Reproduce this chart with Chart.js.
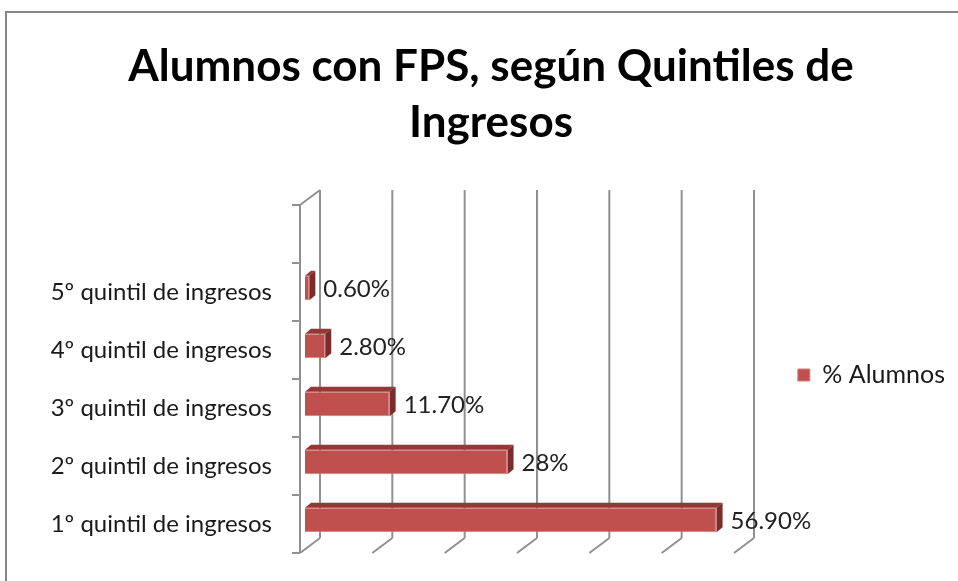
<!DOCTYPE html>
<html>
<head>
<meta charset="utf-8">
<script src="https://cdn.jsdelivr.net/npm/chart.js@4.4.0/dist/chart.umd.min.js"></script>
<style>
  html, body { margin: 0; padding: 0; background: #fff; }
  #wrap { width: 958px; height: 581px; position: relative; }
</style>
</head>
<body>
<div id="wrap"><canvas id="grafico"></canvas></div>
<script>
// Datos (orden de Excel: de abajo hacia arriba)
const quintiles = ['1º quintil de ingresos', '2º quintil de ingresos', '3º quintil de ingresos',
    '4º quintil de ingresos', '5º quintil de ingresos', ''];
const alumnos = [56.9, 28, 11.7, 2.8, 0.6, null];
const etiquetas = ['56.90%', '28%', '11.70%', '2.80%', '0.60%', ''];
const ejeX = [0, 10, 20, 30, 40, 50, 60];

const FUENTE = 'Lato, "Open Sans", sans-serif';
const TAM = 24;                     // tamaño del texto de ejes y etiquetas
const TAM_LEY = 25;                 // tamaño del texto de la leyenda
const PROF = { dx: 20, dy: -15 };   // profundidad de las paredes
const BARRA = { dx: 6, dy: -5 };    // profundidad de las barras
const DESP = { dx: -5, dy: 4 };     // plano frontal respecto a las barras
const DERECHA = 739;                // borde derecho del área de barras
const PAD_DER = 3;

function poligono(ctx, pts) {
    ctx.beginPath();
    ctx.moveTo(pts[0][0], pts[0][1]);
    for (let i = 1; i < pts.length; i++) ctx.lineTo(pts[i][0], pts[i][1]);
    ctx.closePath();
    ctx.fill();
}

// Plugin que dibuja el marco, las paredes 3D y las caras de las barras
const efecto3d = {
    id: 'efecto3d',
    beforeDraw(chart) {
        const ctx = chart.ctx;
        ctx.save();
        ctx.strokeStyle = '#878787';
        ctx.lineWidth = 2;
        ctx.beginPath();
        ctx.moveTo(6, chart.height + 2);
        ctx.lineTo(6, 12);
        ctx.lineTo(chart.width + 2, 12);
        ctx.stroke();
        ctx.restore();
    },
    beforeDatasetsDraw(chart) {
        const { ctx, chartArea: a, scales: { x } } = chart;
        const fTop = a.top + DESP.dy, fBot = a.bottom + DESP.dy;
        const fx = v => x.getPixelForValue(v) + DESP.dx;
        ctx.save();
        ctx.strokeStyle = '#909090';
        ctx.lineWidth = 2;
        ctx.beginPath();
        // pared izquierda
        const x0 = fx(ejeX[0]);
        ctx.moveTo(x0, fTop); ctx.lineTo(x0, fBot);
        ctx.moveTo(x0, fTop); ctx.lineTo(x0 + PROF.dx, fTop + PROF.dy);
        // marcas del eje de categorías
        const paso = (a.bottom - a.top) / quintiles.length;
        for (let i = 0; i <= quintiles.length; i++) {
            const yy = fTop + i * paso;
            ctx.moveTo(x0 - 8, yy); ctx.lineTo(x0, yy);
        }
        // líneas de división: pared del fondo y suelo
        ejeX.forEach(v => {
            const xf = fx(v);
            ctx.moveTo(xf + PROF.dx, fTop + PROF.dy); ctx.lineTo(xf + PROF.dx, fBot + PROF.dy);
            ctx.moveTo(xf, fBot); ctx.lineTo(xf + PROF.dx, fBot + PROF.dy);
        });
        ctx.stroke();
        ctx.restore();
    },
    afterDatasetsDraw(chart) {
        const ctx = chart.ctx;
        const meta = chart.getDatasetMeta(0);
        ctx.save();
        meta.data.forEach((bar, i) => {
            if (alumnos[i] == null) return;
            const p = bar.getProps(['x', 'y', 'base', 'height'], true);
            const top = p.y - p.height / 2, bot = p.y + p.height / 2;
            ctx.fillStyle = '#953735';
            poligono(ctx, [[p.base, top], [p.x, top], [p.x + BARRA.dx, top + BARRA.dy], [p.base + BARRA.dx, top + BARRA.dy]]);
            ctx.fillStyle = '#7b2c2a';
            poligono(ctx, [[p.x, top], [p.x + BARRA.dx, top + BARRA.dy], [p.x + BARRA.dx, bot + BARRA.dy], [p.x, bot]]);
            ctx.fillStyle = '#222222';
            ctx.font = TAM + 'px ' + FUENTE;
            ctx.textBaseline = 'middle';
            ctx.textAlign = 'left';
            ctx.fillText(etiquetas[i], p.x + BARRA.dx + 8, p.y + 1);
        });
        ctx.restore();
    }
};

new Chart(document.getElementById('grafico'), {
    type: 'bar',
    data: {
        labels: quintiles,
        datasets: [{
            label: '% Alumnos',
            data: alumnos,
            backgroundColor: '#C0504D',
            borderColor: '#D47F7C',
            borderWidth: 1,
            barPercentage: 0.42,
            categoryPercentage: 1
        }]
    },
    options: {
        indexAxis: 'y',
        responsive: true,
        maintainAspectRatio: false,
        animation: false,
        layout: { padding: { left: 24 + PAD_DER, right: PAD_DER, top: 0, bottom: 32 } },
        scales: {
            x: { display: false, min: 0, max: 60 },
            y: {
                reverse: true,
                grid: { display: false, drawTicks: false },
                border: { display: false },
                ticks: { padding: 33, labelOffset: 4, color: '#1a1a1a', font: { family: FUENTE, size: TAM } },
                afterFit(s) {
                    s.width = 305 - 24 - PAD_DER;
                    s.paddingTop = 0;
                    s.paddingBottom = 0;
                }
            },
            y2: {
                type: 'linear',
                position: 'right',
                grid: { display: false, drawTicks: false },
                border: { display: false },
                ticks: { display: false },
                afterFit(s) {
                    // hueco entre las barras y la leyenda
                    const ctx = s.ctx;
                    ctx.save();
                    ctx.font = TAM_LEY + 'px ' + FUENTE;
                    const w = ctx.measureText('% Alumnos').width;
                    ctx.restore();
                    s.width = 958 - PAD_DER - 20 - (12 + TAM_LEY / 2 + w) - DERECHA;
                    s.paddingTop = 0;
                    s.paddingBottom = 0;
                }
            }
        },
        plugins: {
            title: {
                display: true,
                text: ['Alumnos con FPS, según Quintiles de', 'Ingresos'],
                color: '#000',
                font: { family: FUENTE, size: 44, weight: 'bold', lineHeight: 56 / 44 },
                padding: { top: 39, bottom: 50 }
            },
            legend: {
                position: 'right',
                fullSize: false,
                maxWidth: 300,
                labels: {
                    boxWidth: 12,
                    boxHeight: 12,
                    padding: 10,
                    color: '#1a1a1a',
                    font: { family: FUENTE, size: TAM_LEY }
                }
            },
            tooltip: { enabled: false }
        }
    },
    plugins: [efecto3d]
});
</script>
</body>
</html>
